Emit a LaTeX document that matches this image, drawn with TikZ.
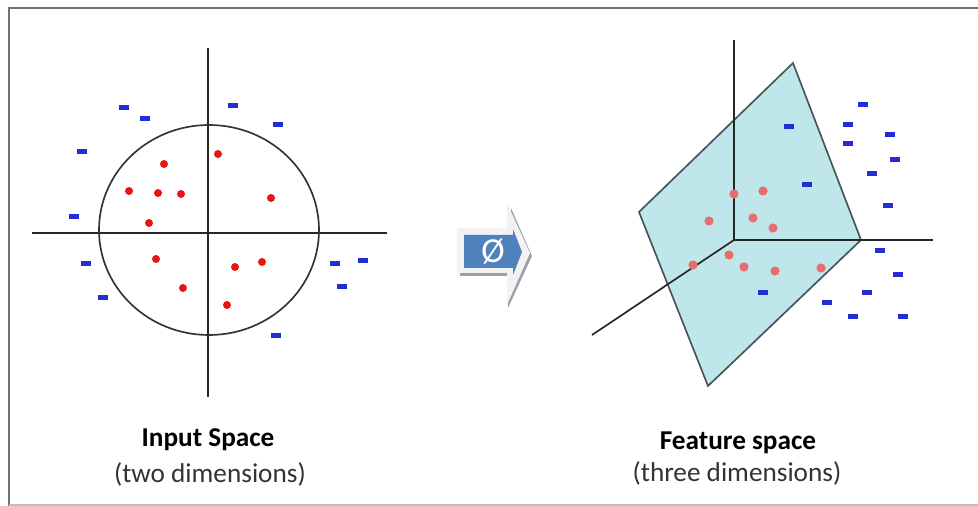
\documentclass[tikz,border=0pt]{standalone}
\usepackage{fontspec}
\setmainfont{Carlito}
\usepackage{xcolor}
\usepackage{tikz}
\usetikzlibrary{positioning, arrows.meta}

\definecolor{dotred}{RGB}{235,20,20}
\definecolor{dotpink}{RGB}{232,110,110}
\definecolor{markblue}{RGB}{35,45,215}
\definecolor{planecyan}{RGB}{190,230,235}
\definecolor{planeedge}{RGB}{70,85,85}
\definecolor{arrowblue}{RGB}{79,129,189}
\definecolor{shadowgray}{RGB}{150,160,175}

\begin{document}
\begin{tikzpicture}[x=0.02cm, y=-0.02cm,
    reddot/.style={fill=dotred},
    pinkdot/.style={fill=dotpink},
    bluemark/.style={fill=markblue},
    axis/.style={draw=black!85, line width=0.95pt},
    title/.style={font=\fontsize{15.5}{18}\selectfont\bfseries, text=black},
    subtitle/.style={font=\fontsize{15.5}{18}\selectfont, text=black!80}]
    \useasboundingbox (0,0) rectangle (978,506);
    % frame
    \draw[black!55, line width=1.6pt] (978,8) -- (9,8) -- (9,506);
    \draw[black!25, line width=0.6pt] (9,505) -- (978,505);

    % input space
    \draw[axis] (32,233) -- (387,233);
    \draw[axis] (208,48) -- (208,397);
    \draw[black!80, line width=0.95pt] (209,230) ellipse [x radius=110, y radius=105];
    \foreach \x/\y in {164/164, 218/154, 129/191, 158/193, 181/194, 271/198,
                       149/223, 156/259, 235/267, 262/262, 183/288, 227/305}
        \fill[reddot] (\x,\y) circle (4);
    \foreach \x/\y in {124/108, 145/119, 233/106, 278/125, 82/152, 74/217,
                       86/264, 103/298, 335/264, 363/261, 342/287, 276/336}
        \fill[bluemark] (\x-5,\y-2.5) rectangle (\x+5,\y+2.5);

    % mapping arrow
    \fill[shadowgray] (460,272) -- (508,272) -- (508,308) -- (532,256) -- (511,208) -- (511,276) -- (460,276) -- cycle;
    \fill[black!5] (457,228) -- (507,228) -- (507,203) -- (530,253) -- (507,305) -- (507,273) -- (457,273) -- cycle;
    \fill[arrowblue] (464,235) -- (513,235) -- (513,229) -- (522,252) -- (513,275) -- (513,268) -- (464,268) -- cycle;
    \node[text=white, font=\fontsize{20}{22}\selectfont] (phi) at (493,252) {Ø};

    % feature space
    \filldraw[fill=planecyan, draw=planeedge, line width=0.95pt]
        (639,212) -- (793,63) -- (861,240) -- (708,386) -- cycle;
    \draw[axis] (734,40) -- (734,240) -- (933,240);
    \draw[axis] (734,240) -- (592,335);
    \foreach \x/\y in {734/194, 763/191, 709/221, 753/218, 773/228,
                       729/255, 693/265, 744/267, 775/271, 821/268}
        \fill[pinkdot] (\x,\y) circle (4.6);
    \foreach \x/\y in {863/105, 789/127, 848/125, 890/135, 848/144, 895/160,
                       872/174, 807/185, 888/206, 880/251, 898/275, 763/293,
                       867/293, 827/303, 853/317, 903/317}
        \fill[bluemark] (\x-5,\y-2.5) rectangle (\x+5,\y+2.5);

    % labels
    \node[title] (inputtitle) at (208,440) {Input Space};
    \node[subtitle] (inputsub) at (210,474) {(two dimensions)};
    \node[title] (featuretitle) at (738,443) {Feature space};
    \node[subtitle] (featuresub) at (737,473) {(three dimensions)};
\end{tikzpicture}
\end{document}
